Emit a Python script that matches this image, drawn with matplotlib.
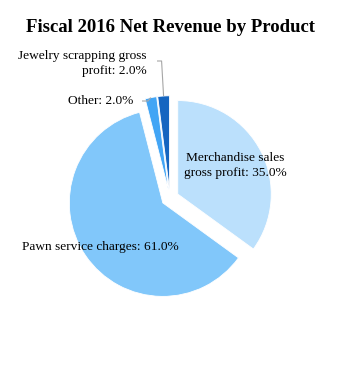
import numpy as np
import matplotlib
matplotlib.use("Agg")
import matplotlib.pyplot as plt

categories = ["Merchandise sales gross profit", "Pawn service charges", "Other", "Jewelry scrapping gross profit"]
values = [35.0, 61.0, 2.0, 2.0]
colors = ["#bbe0fc", "#81c7fa", "#42a5f5", "#1565c0"]
title = "Fiscal 2016 Net Revenue by Product"

W, H = 340, 366
CX, CY, R = 170, 198, 93.5  # pie centre (px from top-left) and radius in px


def d(px, py):
    return (px - CX) / R, (CY - py) / R


plt.rcParams['font.family'] = ['Liberation Serif', 'DejaVu Serif']
fig = plt.figure(figsize=(W / 100, H / 100), dpi=100)
ax = fig.add_axes([0, 0, 1, 1])
wedges, _ = ax.pie(values, colors=colors, startangle=90, counterclock=False,
                   explode=[0.093] * len(values), radius=1,
                   wedgeprops=dict(edgecolor="white", linewidth=0.6))
ax.set_xlim(-CX / R, (W - CX) / R)
ax.set_ylim(-(H - CY) / R, CY / R)
ax.set_aspect('equal')
ax.axis('off')

fs = 9.6
# Merchandise label
x, y = d(235, 165.5)
ax.text(x, y, "Merchandise sales\ngross profit: %.1f%%" % values[0], ha='center', va='center',
        fontsize=fs, linespacing=1.32)
# Pawn label
x, y = d(100, 247)
ax.text(x, y, "Pawn service charges: %.1f%%" % values[1], ha='center', va='center', fontsize=fs)


def arc_point(w, frac=0.5):
    t = np.deg2rad(w.theta1 + (w.theta2 - w.theta1) * frac)
    cx, cy = w.center
    return cx + w.r * np.cos(t), cy + w.r * np.sin(t)


# Other label with leader
tx, ty = d(133, 101)
ax.text(tx, ty, "%s: %.1f%%" % (categories[2], values[2]), ha='right', va='center', fontsize=fs)
ex, ey = arc_point(wedges[2], 0.5)
ax.plot([tx + 9 / R, ex - 3 / R, ex], [ty, ty, ey], color="#a6a6a6", lw=0.8, solid_capstyle='butt')

# Jewelry label with leader
tx, ty = d(147, 63.5)
ax.text(tx, ty, "Jewelry scrapping gross\nprofit: %.1f%%" % values[3], ha='right', va='center',
        fontsize=fs, linespacing=1.38, multialignment='right')
ex, ey = arc_point(wedges[3], 0.5)
ly = d(0, 61)[1]
ax.plot([tx + 10 / R, ex - 2 / R, ex], [ly, ly, ey], color="#a6a6a6", lw=0.8, solid_capstyle='butt')

fig.text(0.5, 1 - 27 / H, title, ha='center', va='center', fontsize=13.5, fontweight='bold')

fig.savefig("out.png", dpi=100, facecolor='white')
